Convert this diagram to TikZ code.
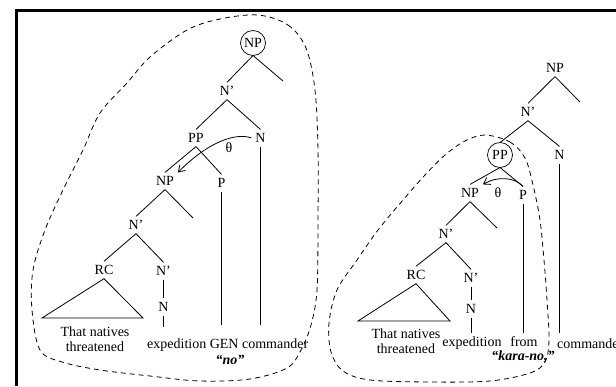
\documentclass[tikz,border=0pt]{standalone}
\usepackage{fontspec}
\setmainfont{Liberation Serif}
\usetikzlibrary{arrows.meta}
\begin{document}
\begin{tikzpicture}[x=1pt,y=-1pt,
  lbl/.style={inner sep=0pt, outer sep=4pt, font=\fontsize{14}{15}\selectfont},
  circ/.style={circle, draw, line width=0.7pt, minimum size=25pt, inner sep=0pt, outer sep=0pt, font=\fontsize{14}{15}\selectfont},
  txt/.style={inner sep=0pt, font=\fontsize{14}{14.5}\selectfont},
  branch/.style={line width=0.8pt},
  blob/.style={dash pattern=on 5pt off 4pt, line width=0.8pt},
  thetaarrow/.style={-{Straight Barb[length=6pt,width=8pt]}, line width=0.8pt},
  frame/.style={line width=3pt, line join=miter}]
\useasboundingbox (0,0) rectangle (616,386);
\clip (0,0) rectangle (616,386);

% frame edges
\draw[frame] (16.5,386) -- (16.5,10) -- (616,10);

% ---------- left tree ----------
\node[circ] (lNP) at (253,43) {NP};
\coordinate (lNPr) at (283,81);
\node[lbl] (lN1) at (227,91) {N'};
\node[lbl] (lPP) at (196,138) {PP};
\node[lbl] (lN) at (260.5,138) {N};
\node[lbl] (lNP2) at (165,181) {NP};
\node[lbl] (lP) at (221.5,183) {P};
\coordinate (lNP2r) at (193,218);
\node[lbl] (lN2) at (136,225) {N'};
\node[lbl] (lRC) at (104,270) {RC};
\node[lbl] (lN3) at (163.5,271) {N'};
\node[lbl] (lN4) at (163.5,307) {N};
\coordinate (lTriL) at (42,318);
\coordinate (lTriR) at (143,318);
\coordinate (lN4end) at (163.5,327);
\coordinate (lPend) at (221.5,325);
\coordinate (lNend) at (260.5,325);
\node[lbl] (lth) at (229,148) {θ};

\node[txt, align=center] (lRCt) at (95,339) {That natives\\threatened};
\node[txt, anchor=base west] (lwords) at (147,348) {expedition GEN commander};
\node[txt, anchor=base] (lno) at (230,364) {\textbf{\textit{``no''}}};

\draw[branch] (lNP.south) -- (lN1.north);
\draw[branch] (lNP.south) -- (lNPr);
\draw[branch] (lN1.south) -- (lPP.north);
\draw[branch] (lN1.south) -- (lN.north);
\draw[branch] (lPP.south) -- (lNP2.north);
\draw[branch] (lPP.south) -- (lP.north);
\draw[branch] (lNP2.south) -- (lN2.north);
\draw[branch] (lNP2.south) -- (lNP2r);
\draw[branch] (lN2.south) -- (lRC.north);
\draw[branch] (lN2.south) -- (lN3.north);
\draw[branch] (lN3.south) -- (lN4.north);
\draw[branch] (lN4.south) -- (lN4end);
\draw[branch] (lP.south) -- (lPend);
\draw[branch] (lN.south) -- (lNend);
\draw[branch] (lRC.south) -- (lTriL) -- (lTriR) -- cycle;
\draw[thetaarrow] (lN.west) .. controls (235,132) and (207,143) .. (lNP2.north east);

\draw[blob] plot[smooth cycle, tension=0.55] coordinates {
  (258,15) (288,25) (306,48) (315,90) (318,150) (318,220) (317,290)
  (311,325) (301,350) (287,368) (250,379) (200,381) (150,376) (100,370)
  (62,362) (40,350) (32,310) (33,270) (45,230) (63,190) (83,150)
  (100,113) (127,83) (150,57) (187,30) (220,19)};

% ---------- right tree ----------
\node[lbl] (rNP) at (555,68) {NP};
\coordinate (rNPr) at (580,102);
\node[lbl] (rN1) at (528,112) {N'};
\node[circ] (rPP) at (500,155) {PP};
\node[lbl] (rN) at (559.5,155) {N};
\node[lbl] (rNP2) at (470,193) {NP};
\node[lbl] (rP) at (523,195) {P};
\coordinate (rNP2r) at (497,228);
\node[lbl] (rN2) at (446,234) {N'};
\node[lbl] (rRC) at (416,275) {RC};
\node[lbl] (rN3) at (471,278) {N'};
\node[lbl] (rN4) at (471,309) {N};
\coordinate (rTriL) at (358,321);
\coordinate (rTriR) at (450,321);
\coordinate (rN4end) at (471,333);
\coordinate (rPend) at (523,333);
\coordinate (rNend) at (559.5,333);
\node[lbl] (rth) at (498,193) {θ};

\node[txt, align=center] (rRCt) at (406,341) {That natives\\threatened};
\node[txt] (rexp) at (472,343) {expedition};
\node[txt] (rfrom) at (524,342) {from};
\node[txt] (rkara) at (523,357) {\textbf{\textit{``kara-no,''}}};
\node[txt, anchor=west] (rcomm) at (557,344) {commander};

\draw[branch] (rNP.south) -- (rN1.north);
\draw[branch] (rNP.south) -- (rNPr);
\draw[branch] (rN1.south) -- (rPP.north);
\draw[branch] (rN1.south) -- (rN.north);
\draw[branch] (rPP.south) -- (rNP2.north);
\draw[branch] (rPP.south) -- (rP.north);
\draw[branch] (rNP2.south) -- (rN2.north);
\draw[branch] (rNP2.south) -- (rNP2r);
\draw[branch] (rN2.south) -- (rRC.north);
\draw[branch] (rN2.south) -- (rN3.north);
\draw[branch] (rN3.south) -- (rN4.north);
\draw[branch] (rN4.south) -- (rN4end);
\draw[branch] (rP.south) -- (rPend);
\draw[branch] (rN.south) -- (rNend);
\draw[branch] (rRC.south) -- (rTriL) -- (rTriR) -- cycle;
\draw[thetaarrow] (rP.north) .. controls (515,177) and (497,176) .. (rNP2.north east);

\draw[blob] plot[smooth cycle, tension=0.55] coordinates {
  (485,135) (510,142) (525,158) (533,185) (540,220) (544,260) (547,300)
  (549,340) (545,362) (530,373) (490,381) (430,382) (370,380) (343,371)
  (331,352) (329,323) (337,290) (357,260) (378,230) (403,200) (425,175)
  (445,155) (465,141)};
\end{tikzpicture}
\end{document}
